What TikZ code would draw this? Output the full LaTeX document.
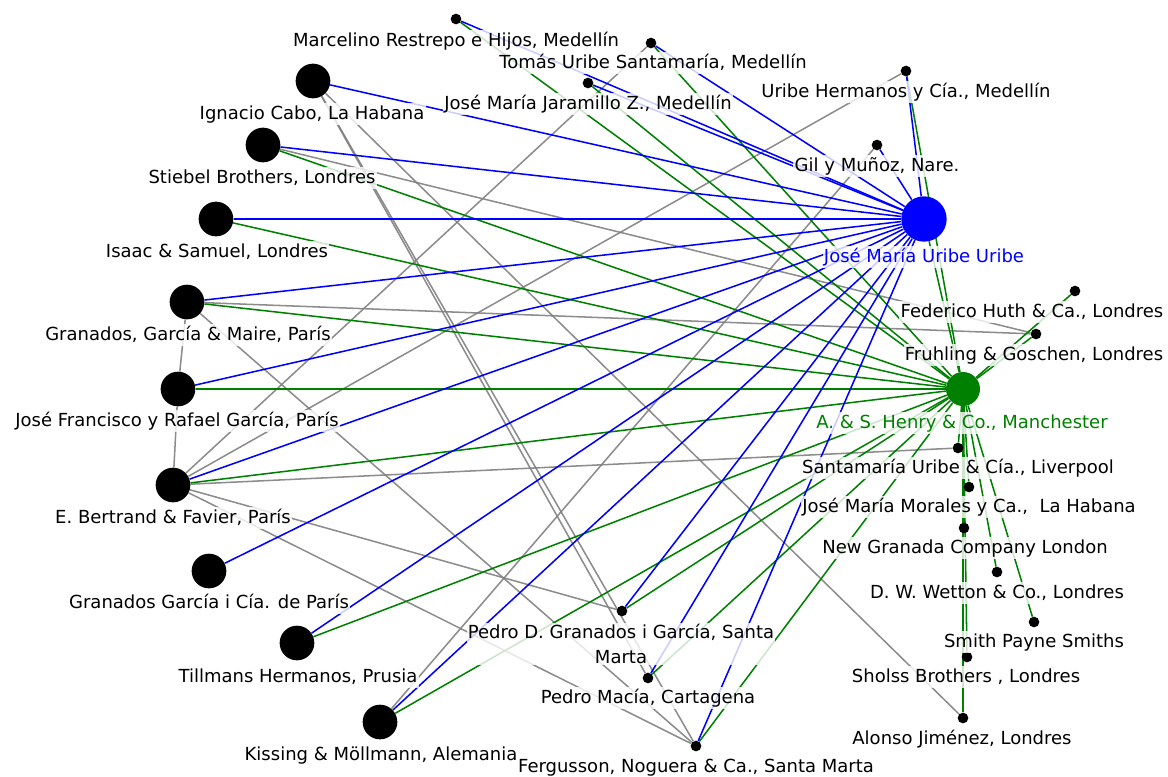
\documentclass[tikz,border=0pt]{standalone}
\usepackage{fontspec}
\setmainfont{DejaVu Sans}
\usetikzlibrary{backgrounds}
\definecolor{eblue}{RGB}{0,0,255}
\definecolor{egreen}{RGB}{0,128,0}
\definecolor{egray}{RGB}{128,128,128}
\begin{document}
\begin{tikzpicture}[x=0.75pt,y=-0.75pt,
  hubblue/.style={circle,fill=eblue,inner sep=0pt,minimum size=34pt},
  hubgreen/.style={circle,fill=egreen,inner sep=0pt,minimum size=25.5pt},
  bignode/.style={circle,fill=black,inner sep=0pt,minimum size=26pt},
  smallnode/.style={circle,fill=black,inner sep=0pt,minimum size=8pt},
  labbase/.style={fill=white,fill opacity=0.8,text opacity=1,inner sep=1pt,
     font=\fontsize{13.5}{18.5}\selectfont},
  lab/.style={labbase,text height=11pt,text depth=3pt},
  be/.style={eblue,line width=1.15pt},
  ge/.style={egreen,line width=1.15pt},
  ye/.style={egray,line width=1.15pt,draw opacity=0.9}]
\useasboundingbox (0,0) rectangle (1168,776);

% hubs
\node[hubblue]  (jm) at (924,219) {};
\node[hubgreen] (hy) at (963,389) {};
% top small nodes
\node[smallnode] (mr) at (456,19) {};
\node[smallnode] (tu) at (651,43) {};
\node[smallnode] (jj) at (588,83) {};
\node[smallnode] (uh) at (906,71) {};
\node[smallnode] (gm) at (877,145) {};
% left big nodes
\node[bignode] (ic) at (313,81) {};
\node[bignode] (sb) at (263,145) {};
\node[bignode] (is) at (216,219) {};
\node[bignode] (gg) at (187,302) {};
\node[bignode] (jf) at (178,389) {};
\node[bignode] (eb) at (173,485) {};
\node[bignode] (gc) at (209,571) {};
\node[bignode] (th) at (297,643) {};
\node[bignode] (km) at (380,722) {};
% right small nodes
\node[smallnode] (fh) at (1075,291) {};
\node[smallnode] (fg) at (1036,334) {};
\node[smallnode] (su) at (958,448) {};
\node[smallnode] (mo) at (969,487) {};
\node[smallnode] (ng) at (964,528) {};
\node[smallnode] (dw) at (997,572) {};
\node[smallnode] (sp) at (1034,622) {};
\node[smallnode] (sh) at (967,657) {};
\node[smallnode] (aj) at (963,718) {};
% bottom small nodes
\node[smallnode] (pg) at (622,611) {};
\node[smallnode] (pm) at (648,678) {};
\node[smallnode] (fn) at (696,746) {};

\begin{scope}[on background layer]
  % gray edges
  \foreach \a/\b in {tu/eb,uh/eb,gm/km,ic/aj,ic/pm,ic/fn,sb/fg,gg/fg,gg/jf,gg/fn,jf/eb,eb/su,eb/pg,eb/fn}
    \draw[ye] (\a) -- (\b);
  % green edges
  \foreach \n in {mr,tu,jj,uh,sb,is,gg,jf,eb,th,km,pg,pm,fn,fh,fg,su,mo,ng,dw,sp,sh,aj,jm}
    \draw[ge] (hy) -- (\n);
  % blue edges
  \foreach \n in {mr,tu,jj,uh,gm,ic,sb,is,gg,jf,eb,gc,th,km,pg,pm,fn}
    \draw[be] (jm) -- (\n);
\end{scope}

% labels
\node[lab] (lmr) at (456,41) {Marcelino Restrepo e Hijos, Medellín};
\node[lab] (ltu) at (653,63) {Tomás Uribe Santamaría, Medellín};
\node[lab] (ljj) at (588,104) {José María Jaramillo Z., Medellín};
\node[lab] (luh) at (906,92) {Uribe Hermanos y Cía., Medellín};
\node[lab] (lgm) at (877,166) {Gil y Muñoz, Nare.};
\node[lab] (lic) at (312,114) {Ignacio Cabo, La Habana};
\node[lab] (lsb) at (262,178) {Stiebel Brothers, Londres};
\node[lab] (lis) at (217,252) {Isaac \& Samuel, Londres};
\node[lab] (lgg) at (188,335) {Granados, García \& Maire, París};
\node[lab] (ljf) at (177,421) {José Francisco y Rafael García, París};
\node[lab] (leb) at (173,518) {E. Bertrand \& Favier, París};
\node[lab] (lgc) at (209,603) {Granados García i Cía. de París};
\node[lab] (lth) at (298,677) {Tillmans Hermanos, Prusia};
\node[lab] (lkm) at (381,755) {Kissing \& Möllmann, Alemania};
\node[lab,text=eblue] (ljm) at (924,257) {José María Uribe Uribe};
\node[lab,text=egreen] (lhy) at (962,423) {A. \& S. Henry \& Co., Manchester};
\node[lab] (lfh) at (1032,312) {Federico Huth \& Ca., Londres};
\node[lab] (lfg) at (1034,355) {Fruhling \& Goschen, Londres};
\node[lab] (lsu) at (958,468) {Santamaría Uribe \& Cía., Liverpool};
\node[lab] (lmo) at (969,507) {José María Morales y Ca.,\ \ La Habana};
\node[lab] (lng) at (965,548) {New Granada Company London};
\node[lab] (ldw) at (997,593) {D. W. Wetton \& Co., Londres};
\node[lab] (lsp) at (1034,642) {Smith Payne Smiths};
\node[lab] (lsh) at (966,677) {Sholss Brothers , Londres};
\node[lab] (laj) at (962,739) {Alonso Jiménez, Londres};
\node[labbase,align=center] (lpg) at (621,644) {Pedro D. Granados i García, Santa\\Marta};
\node[lab] (lpm) at (648,698) {Pedro Macía, Cartagena};
\node[lab] (lfn) at (696,767) {Fergusson, Noguera \& Ca., Santa Marta};
\end{tikzpicture}
\end{document}
